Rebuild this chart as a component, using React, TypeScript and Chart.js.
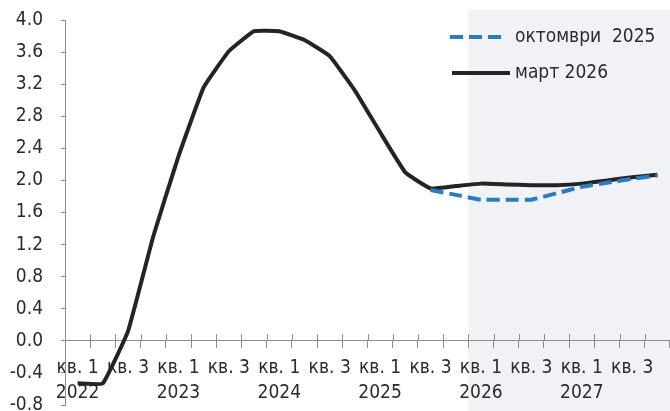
import React, { useEffect, useRef } from "react";
import { Chart, registerables } from "chart.js";

Chart.register(...registerables);

const FONT = "'DejaVu Sans Condensed', 'DejaVu Sans', sans-serif";

// Categories: quarters Q1 2022 .. Q4 2027
const quarterLabels = [
  "кв. 1", "", "кв. 3", "",
  "кв. 1", "", "кв. 3", "",
  "кв. 1", "", "кв. 3", "",
  "кв. 1", "", "кв. 3", "",
  "кв. 1", "", "кв. 3", "",
  "кв. 1", "", "кв. 3", "",
];
const yearLabels = [
  "2022", "", "", "",
  "2023", "", "", "",
  "2024", "", "", "",
  "2025", "", "", "",
  "2026", "", "", "",
  "2027", "", "", "",
];

// Series
const october2025: (number | null)[] = [
  null, null, null, null, null, null, null, null, null, null, null, null, null, null,
  1.88, 1.82, 1.76, 1.76, 1.76, 1.84, 1.92, 1.97, 2.02, 2.06,
];
const march2026: number[] = [
  -0.53, -0.53, 0.12, 1.3, 2.3, 3.16, 3.61, 3.86, 3.86, 3.75, 3.55, 3.12,
  2.6, 2.1, 1.9, 1.93, 1.96, 1.95, 1.94, 1.94, 1.96, 2.0, 2.04, 2.07,
];

const seriesNames = ["октомври  2025", "март 2026"];

// Y axis tick values
const yTicks = [-0.8, -0.4, 0.0, 0.4, 0.8, 1.2, 1.6, 2.0, 2.4, 2.8, 3.2, 3.6, 4.0];

// Forecast period starts at category index (Q1 2026)
const forecastStart = 16;

const AXIS_COLOR = "#8e8e8e";
const TEXT_COLOR = "#2b2b2b";

const shadePlugin = {
  id: "shade",
  beforeDraw(chart: any) {
    const x = chart.scales.x;
    const half = (x.getPixelForValue(1) - x.getPixelForValue(0)) / 2;
    const left = x.getPixelForValue(forecastStart) - half;
    const ctx = chart.ctx;
    ctx.save();
    ctx.fillStyle = "#f0f2f5";
    ctx.fillRect(left, 10, chart.width - left, chart.height - 10);
    ctx.restore();
  },
};

const crossTicksPlugin = {
  id: "crossTicks",
  beforeDatasetsDraw(chart: any) {
    const x = chart.scales.x;
    const y = chart.scales.y;
    const y0 = Math.round(y.getPixelForValue(0));
    const n = chart.data.labels.length;
    const half = (x.getPixelForValue(1) - x.getPixelForValue(0)) / 2;
    const ctx = chart.ctx;
    ctx.save();
    ctx.strokeStyle = AXIS_COLOR;
    ctx.lineWidth = 1;
    ctx.beginPath();
    for (let i = 0; i <= n; i++) {
      const px = i < n ? x.getPixelForValue(i) - half : x.getPixelForValue(n - 1) + half;
      const rx = Math.round(px) + 0.5;
      ctx.moveTo(rx, y0 - 7);
      ctx.lineTo(rx, y0);
    }
    ctx.stroke();
    ctx.restore();
  },
};

const legendPlugin = {
  id: "customLegend",
  afterDatasetsDraw(chart: any) {
    const ctx = chart.ctx;
    const area = chart.chartArea;
    const rows = [
      { ds: chart.data.datasets[0], y: 37, x1: area.right - 220, x2: area.right - 167 },
      { ds: chart.data.datasets[1], y: 73, x1: area.right - 218, x2: area.right - 160 },
    ];
    ctx.save();
    rows.forEach((r) => {
      ctx.beginPath();
      ctx.strokeStyle = r.ds.borderColor;
      ctx.lineWidth = r.ds.borderWidth;
      ctx.setLineDash(r.ds.borderDash || []);
      ctx.moveTo(r.x1, r.y);
      ctx.lineTo(r.x2, r.y);
      ctx.stroke();
      ctx.setLineDash([]);
      ctx.fillStyle = TEXT_COLOR;
      ctx.font = `19px ${FONT}`;
      ctx.textBaseline = "middle";
      ctx.textAlign = "left";
      ctx.fillText(r.ds.label, area.right - 155, r.y);
    });
    ctx.restore();
  },
};

export default function App() {
  const canvasRef = useRef<HTMLCanvasElement | null>(null);

  useEffect(() => {
    if (!canvasRef.current) return;
    const labels = quarterLabels.map((q, i) => [q, yearLabels[i]]);
    const chart = new Chart(canvasRef.current, {
      type: "line",
      data: {
        labels,
        datasets: [
          {
            label: seriesNames[0],
            data: october2025,
            borderColor: "#2a7cc2",
            borderWidth: 4,
            borderDash: [13, 6],
            pointRadius: 0,
            tension: 0.1,
            fill: false,
          },
          {
            label: seriesNames[1],
            data: march2026,
            borderColor: "#242424",
            borderWidth: 4,
            pointRadius: 0,
            tension: 0.1,
            fill: false,
          },
        ],
      },
      options: {
        animation: false,
        responsive: false,
        devicePixelRatio: 1,
        layout: { padding: { top: 20, bottom: 6, left: 0, right: 0 } },
        plugins: {
          legend: { display: false },
          tooltip: { enabled: false },
          title: { display: false },
        },
        scales: {
          x: {
            type: "category",
            offset: true,
            position: { y: 0 } as any,
            afterFit: (s: any) => {
              s.height = 0;
              s.paddingTop = 0;
              s.paddingBottom = 0;
            },
            grid: {
              display: true,
              drawOnChartArea: false,
              drawTicks: true,
              tickLength: 7,
              color: AXIS_COLOR,
              offset: true,
            },
            border: { display: true, color: AXIS_COLOR, width: 1 },
            ticks: {
              autoSkip: false,
              maxRotation: 0,
              minRotation: 0,
              padding: 8,
              color: TEXT_COLOR,
              font: { family: FONT, size: 19, lineHeight: 1.32 },
            },
          },
          y: {
            min: -0.8,
            max: 4.0,
            afterBuildTicks: (s: any) => {
              s.ticks = yTicks.map((v) => ({ value: v }));
            },
            afterFit: (s: any) => {
              s.width = 65;
              s.paddingTop = 0;
              s.paddingBottom = 0;
            },
            grid: {
              display: true,
              drawOnChartArea: false,
              drawTicks: true,
              tickLength: 4,
              color: AXIS_COLOR,
            },
            border: { display: true, color: AXIS_COLOR, width: 1 },
            ticks: {
              padding: 18,
              color: TEXT_COLOR,
              font: { family: FONT, size: 19, lineHeight: 0.6 },
              callback: (v: any) => {
                const n = Number(v);
                return Math.abs(n) < 1e-9 ? "0.0" : n.toFixed(1);
              },
            },
          },
        },
      },
      plugins: [shadePlugin, crossTicksPlugin, legendPlugin],
    });
    return () => chart.destroy();
  }, []);

  return (
    <div style={{ position: "absolute", left: 0, top: 0, width: 670, height: 411, background: "#ffffff" }}>
      <canvas ref={canvasRef} width={670} height={411} style={{ display: "block" }} />
    </div>
  );
}
